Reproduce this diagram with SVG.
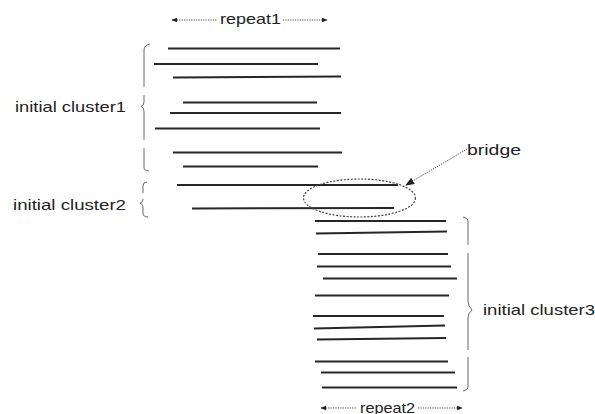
<svg xmlns="http://www.w3.org/2000/svg" width="595" height="414" viewBox="0 0 595 414">
  <style>
    .read { stroke: #262626; stroke-width: 2; stroke-linecap: butt; fill: none; }
    .brace { stroke: #6a6a6a; stroke-width: 1; fill: none; }
    .label { font-family: "Liberation Sans", Arial, sans-serif; font-size: 15px; fill: #222; }
    .span { stroke: #444; stroke-width: 1; stroke-dasharray: 1.2 1.2; fill: none; }
    .ring { stroke: #444; stroke-width: 1.2; stroke-dasharray: 2 1.5; fill: none; }
  </style>
  <defs>
    <marker id="tip" viewBox="0 0 10 10" refX="9" refY="5" markerWidth="6" markerHeight="6" orient="auto-start-reverse" markerUnits="userSpaceOnUse">
      <path d="M0,1 L10,5 L0,9 Z" fill="#222"/>
    </marker>
    <marker id="tipBig" viewBox="0 0 10 10" refX="9" refY="5" markerWidth="9" markerHeight="9" orient="auto" markerUnits="userSpaceOnUse">
      <path d="M0,1 L10,5 L0,9 Z" fill="#222"/>
    </marker>
  </defs>
  <rect width="595" height="414" fill="#fff"/>

  <!-- first cluster of reads -->
  <g id="cluster1">
    <line class="read" x1="168" y1="48.5" x2="340" y2="48.5"/>
    <line class="read" x1="154" y1="64" x2="318" y2="64"/>
    <line class="read" x1="173" y1="77.5" x2="341" y2="76.5"/>
    <line class="read" x1="183" y1="102.5" x2="317" y2="102.5"/>
    <line class="read" x1="170" y1="113" x2="341" y2="113"/>
    <line class="read" x1="155" y1="128.5" x2="320" y2="128.5"/>
    <line class="read" x1="173" y1="152.5" x2="342" y2="152.5"/>
    <line class="read" x1="183" y1="166.5" x2="318" y2="166.5"/>
    <path class="brace" d="M150,44 Q144,45 144,50 L144,87 M144,95 L144,102 Q144,105.5 141,106.5 Q144,107.5 144,111 L144,140 M144,148 L144,167 Q144,171 149,171"/>
    <text class="label" x="15" y="112" textLength="111" lengthAdjust="spacingAndGlyphs">initial cluster1</text>
  </g>

  <!-- second cluster of reads -->
  <g id="cluster2">
    <line class="read" x1="177" y1="185" x2="398" y2="185"/>
    <line class="read" x1="192" y1="208.5" x2="394" y2="208"/>
    <path class="brace" d="M147,182 Q143,182 143,186 L143,193 M143,199 Q143,202.5 140,203 Q143,204 143,207 L143,213 Q143,217 148,217"/>
    <text class="label" x="13" y="210" textLength="113" lengthAdjust="spacingAndGlyphs">initial cluster2</text>
  </g>

  <!-- third cluster of reads -->
  <g id="cluster3">
    <line class="read" x1="315" y1="221" x2="446" y2="221"/>
    <line class="read" x1="316" y1="233.5" x2="447" y2="231.5"/>
    <line class="read" x1="318" y1="254" x2="448" y2="254"/>
    <line class="read" x1="317" y1="266.5" x2="451" y2="266.5"/>
    <line class="read" x1="323" y1="278.5" x2="457" y2="278.5"/>
    <line class="read" x1="315" y1="295.5" x2="449" y2="295.5" stroke-width="2.6"/>
    <line class="read" x1="313" y1="316" x2="444" y2="316"/>
    <line class="read" x1="314" y1="328.5" x2="445" y2="325.5"/>
    <line class="read" x1="317" y1="339.5" x2="446" y2="338"/>
    <line class="read" x1="315" y1="361.5" x2="448" y2="361.5"/>
    <line class="read" x1="321" y1="372.5" x2="455" y2="372.5"/>
    <line class="read" x1="322" y1="387.5" x2="457" y2="387.5"/>
    <path class="brace" d="M463,217 Q468,218 468,222 L468,245 M468,253 L468,301 Q468,306 472,310 Q468,313 468,318 L468,350 M468,357 L468,386 Q468,390 463,391"/>
    <text class="label" x="483" y="315" textLength="112" lengthAdjust="spacingAndGlyphs">initial cluster3</text>
  </g>

  <!-- overlap region joining cluster2 and cluster3 -->
  <g id="bridge">
    <ellipse class="ring" cx="359.5" cy="198" rx="56" ry="19"/>
    <text class="label" x="467" y="155" font-size="14" textLength="54" lengthAdjust="spacingAndGlyphs">bridge</text>
  </g>

  <g id="connectors">
    <line class="span" x1="467" y1="149" x2="406" y2="185" stroke-dasharray="2 1.2" marker-end="url(#tipBig)"/>
    <!-- repeat1 span -->
    <line class="span" x1="172" y1="20" x2="217" y2="20" marker-start="url(#tip)"/>
    <line class="span" x1="283" y1="20" x2="327" y2="20" marker-end="url(#tip)"/>
    <!-- repeat2 span -->
    <line class="span" x1="321" y1="408" x2="356" y2="408" marker-start="url(#tip)"/>
    <line class="span" x1="418" y1="408" x2="462" y2="408" marker-end="url(#tip)"/>
  </g>

  <g id="spanLabels">
    <text class="label" x="220" y="24" font-size="14" textLength="61" lengthAdjust="spacingAndGlyphs">repeat1</text>
    <text class="label" x="360" y="412.5" font-size="16" textLength="55" lengthAdjust="spacingAndGlyphs">repeat2</text>
  </g>
</svg>
